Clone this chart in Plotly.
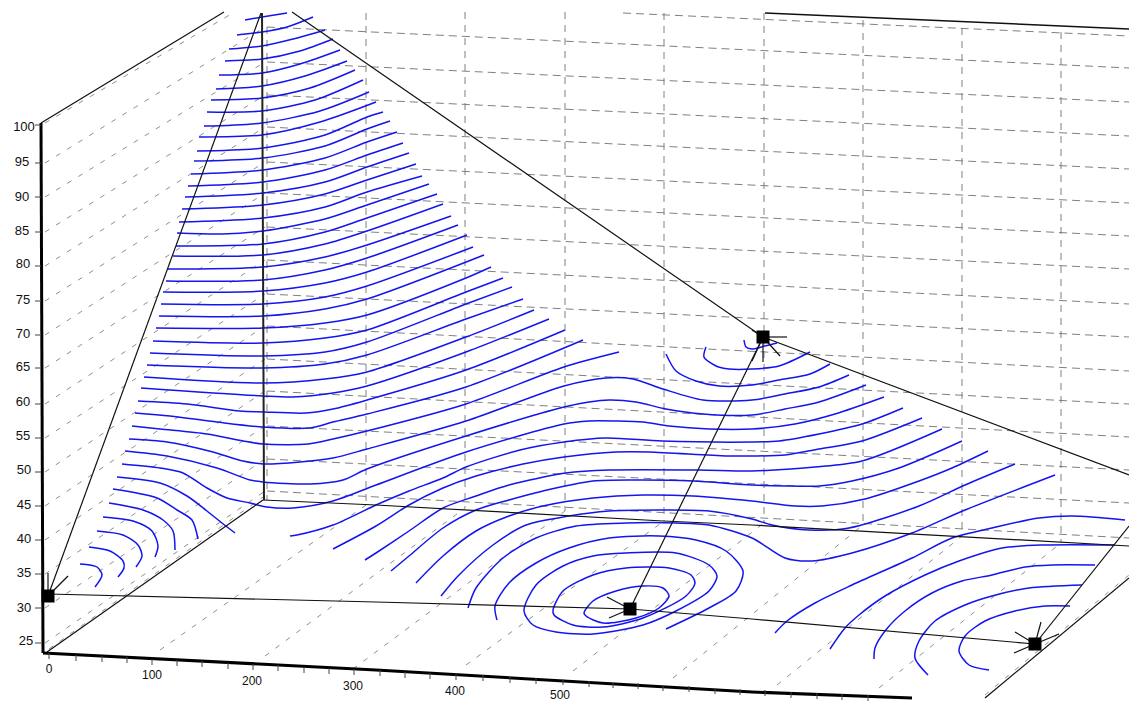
import plotly.graph_objects as go

# Everything in its own pixel frame (x right, y down).
WIDTH, HEIGHT = 1129, 702

wall_contours = [
    [(245,20),(262,17),(287,13)],
    [(237,35),(262,32),(287,27),(313,17)],
    [(229,49),(262,46),(293,39),(325,30)],
    [(225,61),(262,59),(300,51),(333,39)],
    [(219,75),(262,73),(300,64),(340,50)],
    [(216,89),(262,86),(305,76),(347,61)],
    [(211,100),(262,98),(310,88),(355,70)],
    [(207,112),(262,111),(315,100),(363,80)],
    [(204,126),(262,123),(320,111),(369,92)],
    [(199,137),(262,135),(320,122),(376,102)],
    [(197,151),(263,148),(325,135),(367,117),(383,112)],
    [(194,161),(263,158),(325,146),(367,129),(390,121)],
    [(191,174),(263,170),(325,158),(367,142),(397,132)],
    [(188,186),(263,182),(325,170),(367,155),(403,143)],
    [(185,197),(263,193),(325,182),(367,167),(409,153)],
    [(182,209),(263,205),(325,194),(367,180),(416,164)],
    [(179,222),(263,218),(325,207),(367,192),(422,176)],
    [(177,233),(222,234),(263,231),(325,219),(367,205),(429,184)],
    [(176,246),(263,244),(325,232),(367,218),(437,194)],
    [(173,256),(263,255),(325,244),(367,231),(443,204)],
    [(168,269),(263,267),(325,257),(367,245),(451,216)],
    [(166,281),(263,280),(325,270),(367,258),(458,225)],
    [(163,292),(263,291),(325,283),(367,272),(467,235)],
    [(161,304),(263,304),(325,297),(367,286),(473,247)],
    [(159,316),(263,316),(325,309),(367,299),(484,255)],
    [(156,328),(263,328),(325,323),(367,315),(466,278),(491,267)],
    [(153,341),(263,343),(325,338),(367,330),(466,292),(503,278)],
    [(150,353),(263,356),(325,352),(367,342),(466,304),(512,287)],
    [(147,365),(263,368),(325,364),(367,355),(466,319),(523,299)],
    [(144,377),(263,383),(325,379),(367,372),(466,337),(534,310)],
    [(141,388),(263,396),(293,397),(333,393),(367,386),(466,352),(549,319)],
    [(138,401),(187,404),(240,411),(263,412),(306,413),(333,409),(367,400),(466,370),(565,330)],
    [(135,413),(170,416),(217,422),(263,427),(310,428),(333,422),(367,414),(466,387),(583,340)],
    [(132,426),(160,429),(207,434),(243,441),(263,444),(308,444),(333,439),(367,431),(466,404),(564,367),(619,352)],
    [(129,439),(167,442),(213,452),(243,461),(263,464),(300,462),(333,458),(367,449),(466,421),(564,386),(606,378),(633,379),(663,389),(703,400),(752,400),(785,394),(819,387),(849,375)],
    [(125,451),(167,456),(217,468),(250,480),(263,482),(310,484),(343,480),(367,469),(466,436),(564,407),(589,402),(609,400),(636,402),(666,409),(703,414),(752,415),(785,409),(819,402),(866,385)],
    [(122,464),(160,468),(183,473),(207,488),(227,498),(250,503),(267,507),(293,508),(333,501),(376,485),(466,452),(564,424),(589,421),(616,421),(643,422),(669,426),(709,429),(752,429),(795,424),(835,414),(884,397)],
    [(117,477),(160,483),(187,496),(207,511),(222,523),(235,533)],
    [(113,489),(157,498),(177,510),(192,520),(198,539)],
    [(109,503),(143,510),(163,520),(173,531),(175,550)],
    [(103,517),(133,521),(152,531),(158,546),(155,557)],
    [(97,531),(123,535),(138,545),(142,556),(136,567)],
    [(89,547),(110,551),(123,561),(124,568),(118,577)],
    [(80,564),(97,567),(102,575),(95,587)],
]

floor_contours = [
    [(290,536),(297,535),(333,525),(376,505),(409,491),(443,478),(466,467),(520,450),(564,442),(606,438),(662,441),(752,442),(779,441),(819,434),(862,424),(903,408)],
    [(333,549),(376,526),(409,505),(443,488),(476,476),(523,464),(564,457),(616,452),(649,452),(726,456),(752,456),(785,455),(819,449),(862,441),(922,418)],
    [(365,560),(376,553),(409,531),(443,508),(476,496),(509,485),(566,473),(609,470),(699,470),(752,471),(815,467),(862,461),(942,429)],
    [(391,571),(409,556),(443,528),(476,510),(509,500),(543,491),(593,481),(643,480),(693,481),(752,485),(785,486),(819,486),(852,481),(899,468),(962,441)],
    [(416,583),(443,556),(476,531),(509,516),(543,506),(593,498),(643,495),(693,496),(752,501),(795,506),(822,506),(865,499),(919,481),(952,468),(988,451)],
    [(441,596),(459,575),(493,545),(526,525),(569,516),(609,511),(659,510),(709,511),(752,519),(772,525),(809,530),(849,528),(919,506),(965,485),(1015,464)],
    [(468,608),(476,588),(503,558),(536,538),(576,526),(626,523),(676,523),(709,525),(752,538),(785,558),(812,561),(852,553),(912,533),(965,510),(1055,475)],
    [(775,633),(787,621),(815,603),(852,585),(912,558),(952,538),(992,528),(1039,518),(1072,516),(1125,520)],
    [(830,649),(845,628),(859,615),(885,596),(925,575),(959,561),(1002,548),(1045,545),(1115,545)],
    [(874,659),(875,648),(885,631),(905,611),(932,593),(962,581),(992,575),(1025,567),(1052,565),(1095,565)],
    [(928,675),(915,658),(919,641),(935,621),(965,605),(992,596),(1029,588),(1082,585)],
    [(989,670),(969,665),(959,651),(965,636),(985,621),(1015,611),(1045,606),(1070,606)],
]

hill_rings = [
    [(497,620),(495,606),(509,583),(536,563),(569,548),(609,538),(659,536),(696,540),(726,551),(743,571),(736,591),(709,608),(666,629)],
    [(524,611),(536,585),(563,566),(593,556),(626,553),(676,553),(709,565),(717,576),(709,591),(676,611),(643,625),(593,634),(556,632),(533,625),(524,611)],
    [(553,610),(563,591),(593,575),(626,568),(669,568),(691,575),(695,583),(686,596),(643,618),(603,627),(573,625),(554,615),(553,610)],
    [(584,613),(593,601),(616,591),(643,586),(663,588),(669,596),(659,608),(636,618),(603,623),(586,616),(584,613)],
    [(666,354),(676,371),(696,381),(719,386),(752,385),(779,380),(810,374),(830,364)],
    [(706,347),(704,357),(716,366),(729,369),(752,369),(779,366),(810,352)],
    [(744,340),(746,347),(752,349),(765,346),(777,343)],
]

# back wall grid
wall_grid_x = [267, 366, 465, 565, 664, 764, 863, 962, 1061]
wall_grid_top = [27, 13, 12, 12, 13, 13, 20, 28, 32]
wall_grid_bottom = [500, 505, 508, 511, 521, 523, 525, 536, 543]
level_left_y = [27, 62, 95, 127, 162, 193, 227, 260, 294, 326, 359, 391, 426, 459, 491]
level_right_y = [68, 102, 136, 169, 203, 236, 269, 304, 337, 371, 404, 437, 470, 503, 538]

# side wall grid
side_tick_y = [163, 197, 232, 266, 301, 335, 368, 404, 438, 472, 506, 540, 574, 608, 643]

# floor grid (start on front axis -> end on back line)
floor_grid_start_x = [160, 265, 353, 466, 573, 673, 777, 879, 985]
floor_grid_start_y = [650, 656, 669, 665, 671, 678, 685, 688, 695]
floor_grid_end_x = [366, 465, 565, 664, 764, 863, 962, 1061, 1129]
floor_grid_end_y = [505, 508, 511, 521, 523, 525, 536, 543, 575]

y_labels = ["100", "95", "90", "85", "80", "75", "70", "65", "60", "55", "50", "45", "40", "35", "30", "25"]
y_label_x = [24, 22, 22, 22, 23, 23, 23, 23, 23, 23, 24, 24, 24, 24, 24, 26]
y_label_y = [128, 163, 198, 232, 265, 301, 335, 368, 403, 437, 471, 506, 540, 574, 609, 642]
x_labels = ["0", "100", "200", "300", "400", "500"]
x_label_x = [49, 152, 252, 353, 455, 560]
x_label_y = [670, 676, 682, 687, 692, 696]

y_tick_y = [125, 163, 197, 232, 266, 301, 335, 368, 404, 438, 472, 506, 540, 574, 608, 643]
x_tick_x = [49, 76, 102, 127, 152, 177, 202, 228, 253, 278, 304, 329, 354, 380, 405, 430, 456, 483, 510, 536, 563, 589, 613, 638, 663, 689, 715, 740, 765, 791, 817, 842, 868]
x_tick_top = [653, 655, 656, 657, 659, 660, 661, 663, 664, 665, 667, 668, 669, 670, 672, 673, 674, 675, 677, 678, 679, 681, 682, 683, 685, 686, 688, 689, 690, 692, 693, 694, 695]

node_x = [48, 630, 1035, 763]
node_y = [596, 609, 644, 337]
spokes = [
    [(48,596),(48,573)], [(48,596),(68,576)],
    [(630,609),(607,597)], [(630,609),(609,618)],
    [(1035,644),(1041,622)], [(1035,644),(1015,632)], [(1035,644),(1014,653)], [(1035,644),(1059,634)],
    [(763,337),(787,337)], [(763,337),(752,330)], [(763,337),(763,362)], [(763,337),(780,356)], [(763,337),(752,361)],
]
thin_frame = [
    [(41,123),(224,12)],
    [(261,13),(48,596)],
    [(292,12),(763,337),(1129,475)],
    [(48,594),(376,602),(630,609),(752,619),(1035,644)],
    [(630,609),(763,337)],
    [(1035,644),(1129,526)],
    [(985,698),(1129,578)],
    [(47,652),(263,500)],
    [(263,500),(376,505),(663,521),(752,525),(1129,546)],
]
top_edge = [(765,13),(1129,29)]
back_edge = [(262,13),(264,500)]
y_axis = [(41,123),(43,653)]
x_axis = [(43,653),(376,670),(752,692),(912,698)]

BLUE = "#1414f0"
GRID = "#808080"
GRID_SOFT = "#8f8f8f"
INK = "#111111"


def xs(path):
    return [p[0] for p in path]


def ys(path):
    return [p[1] for p in path]


def multi(paths):
    out_x, out_y = [], []
    for path in paths:
        out_x += xs(path) + [None]
        out_y += ys(path) + [None]
    return out_x, out_y


fig = go.Figure()


def add_lines(paths, color, width, dash="solid", shape="linear"):
    gx, gy = multi(paths)
    fig.add_trace(go.Scatter(x=gx, y=gy, mode="lines", hoverinfo="skip", showlegend=False,
                             line=dict(color=color, width=width, dash=dash, shape=shape)))


vertical_paths = [[(gx, top), (gx, bottom)] for gx, top, bottom in zip(wall_grid_x, wall_grid_top, wall_grid_bottom)]
add_lines(vertical_paths, GRID, 1, dash="7px,6px")

level_paths = [[(623, 13), (1129, 36)]]
for left, right in zip(level_left_y, level_right_y):
    level_paths.append([(267, left), (1129, right)])
add_lines(level_paths, GRID, 1, dash="8px,5px")

soft_paths = [[(45, tick), (265, left)] for tick, left in zip(side_tick_y, level_left_y)]
soft_paths.append([(45, 123), (233, 13)])
for a, b, c, d in zip(floor_grid_start_x, floor_grid_start_y, floor_grid_end_x, floor_grid_end_y):
    soft_paths.append([(a, b), (c, d)])
soft_paths.append([(49, 649), (263, 497)])
add_lines(soft_paths, GRID_SOFT, 1, dash="5px,8px")

for path in wall_contours + floor_contours + hill_rings:
    fig.add_trace(go.Scatter(x=xs(path), y=ys(path), mode="lines", hoverinfo="skip", showlegend=False,
                             line=dict(color=BLUE, width=1.5, shape="spline", smoothing=0.8)))

add_lines(thin_frame, INK, 1.2)
add_lines(spokes, INK, 1.2)
add_lines([top_edge], INK, 1.5)
add_lines([back_edge], "#222222", 2)
add_lines([y_axis, x_axis], "#000000", 3)
add_lines([[(35, t), (41, t)] for t in y_tick_y], "#444444", 1)
add_lines([[(a, b), (a, b + 6)] for a, b in zip(x_tick_x, x_tick_top)], "#444444", 1)

fig.add_trace(go.Scatter(x=node_x, y=node_y, mode="markers", hoverinfo="skip", showlegend=False,
                         marker=dict(symbol="square", size=13, color="#000000")))
fig.add_trace(go.Scatter(x=y_label_x, y=y_label_y, mode="text", text=y_labels, hoverinfo="skip", showlegend=False,
                         textposition="middle center", textfont=dict(family="Liberation Sans", size=13, color="#111111")))
fig.add_trace(go.Scatter(x=x_label_x, y=x_label_y, mode="text", text=x_labels, hoverinfo="skip", showlegend=False,
                         textposition="middle center", textfont=dict(family="Liberation Sans", size=12, color="#111111")))

fig.update_layout(
    width=WIDTH, height=HEIGHT, margin=dict(l=0, r=0, t=0, b=0),
    paper_bgcolor="white", plot_bgcolor="white", showlegend=False,
    xaxis=dict(range=[0, WIDTH], visible=False, fixedrange=True),
    yaxis=dict(range=[HEIGHT, 0], visible=False, fixedrange=True),
)
fig.write_html("out.html", config={"displayModeBar": False},
               post_script="document.body.style.margin='0';document.body.style.overflow='hidden';")
